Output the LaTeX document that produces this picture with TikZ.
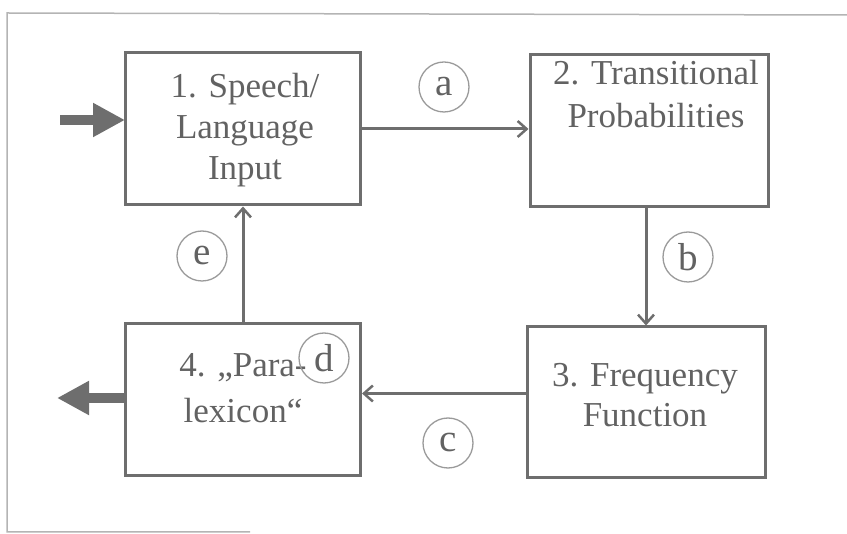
\documentclass[tikz,border=0pt]{standalone}
\usepackage{fontspec}
\setmainfont{Liberation Serif}
\usetikzlibrary{arrows.meta}
\definecolor{boxgray}{HTML}{6E6E6E}
\definecolor{txtgray}{HTML}{626262}
\definecolor{ringgray}{HTML}{9A9A9A}
\definecolor{framegray}{HTML}{B4B4B4}
\begin{document}
\begin{tikzpicture}[x=1pt,y=-1pt,
  box/.style={draw=boxgray,line width=3pt,rectangle,inner sep=0pt,
    minimum width=235pt,minimum height=152pt},
  line/.style={anchor=base,text=txtgray,inner sep=0pt,
    font=\fontsize{35}{40}\selectfont},
  conn/.style={draw=boxgray,line width=3pt,
    -{Straight Barb[length=9pt,width=16pt,line width=2.5pt]}},
  bigarrow/.style={draw=boxgray,line width=10pt,
    -{Triangle[length=32pt,width=32pt]},shorten >=-1pt},
  ring/.style={circle,draw=ringgray,line width=1.3pt,minimum size=50pt,
    inner sep=0pt,text=txtgray,font=\fontsize{39}{44}\selectfont},
  frame/.style={draw=framegray,line width=1.5pt}
]
\useasboundingbox (0,0) rectangle (847,534);

% outer frame
\coordinate (ftl) at (7,13);
\coordinate (ftr) at (847,15);
\coordinate (fbl) at (7,532);
\coordinate (fbr) at (250,532);
\draw[frame] (ftr) -- (ftl) -- (fbl) -- (fbr);

% the four boxes
\node[box] (b1) at (243,129) {};
\node[box,minimum width=238pt] (b2) at (649,131) {};
\node[box,minimum width=238pt,minimum height=151pt] (b3) at (646,402.5) {};
\node[box] (b4) at (243,400) {};

% box texts
\node[line] (t1a) at (245,98)  {1. Speech/};
\node[line] (t1b) at (245,139) {Language};
\node[line] (t1c) at (245,180) {Input};
\node[line] (t2a) at (656,85)  {2. Transitional};
\node[line] (t2b) at (656,128) {Probabilities};
\node[line] (t3a) at (645,387) {3. Frequency};
\node[line] (t3b) at (645,427) {Function};
\node[line] (t4a) at (243,377) {4. „Para-};
\node[line] (t4b) at (243,423) {lexicon“};

% connectors between boxes
\draw[conn] (b1.east) -- (b1.east -| b2.west);
\draw[conn] (b3.north |- b2.south) -- (b3.north);
\draw[conn] ([yshift=9pt]b3.west) -- ([yshift=9pt]b3.west -| b4.east);
\draw[conn] (b4.north) -- (b4.north |- b1.south);

% input and output arrows
\coordinate (in) at (60,120);
\coordinate (out) at (58,398);
\draw[bigarrow] (in) -- (in -| b1.west);
\draw[bigarrow] (out -| b4.west) -- (out);

% labelled rings
\node[ring] (ra) at (444,87)  {a};
\node[ring] (rb) at (688,257) {b};
\node[ring] (rc) at (448,443) {c};
\node[ring] (rd) at (324,358) {d};
\node[ring] (re) at (202,256) {e};
\end{tikzpicture}
\end{document}
